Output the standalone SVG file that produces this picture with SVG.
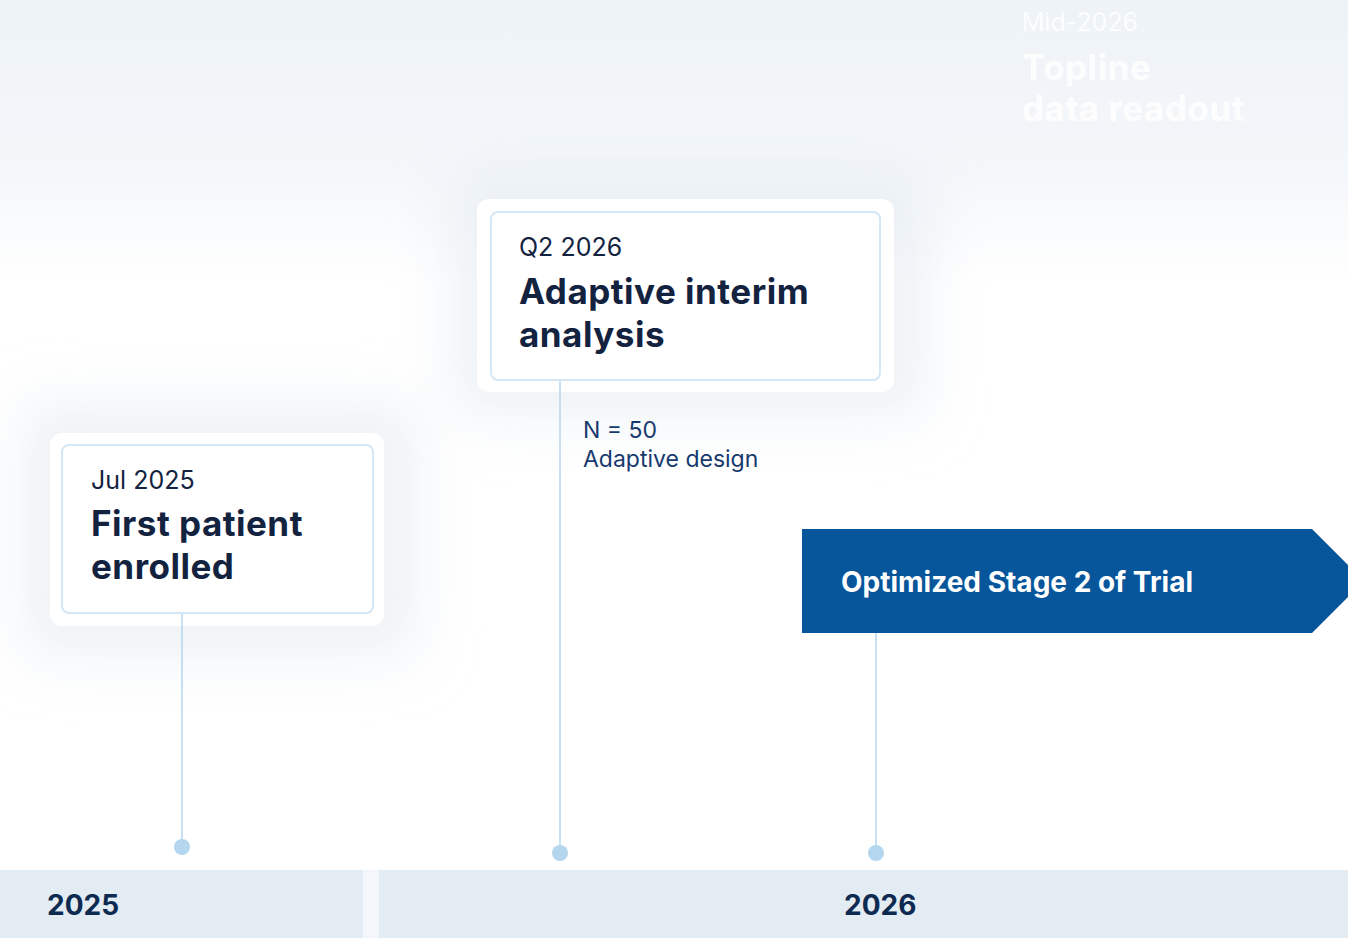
<svg xmlns="http://www.w3.org/2000/svg" width="1348" height="938" viewBox="0 0 1348 938">
<defs>
<linearGradient id="bg" x1="0" y1="0" x2="0" y2="1">
<stop offset="0" stop-color="#eef3f7"/>
<stop offset="0.6" stop-color="#f4f7fa"/>
<stop offset="1" stop-color="#ffffff"/>
</linearGradient>
<filter id="sh" x="-40%" y="-60%" width="180%" height="220%">
<feGaussianBlur stdDeviation="28"/>
</filter>
<style>
.card{fill:#ffffff}
.inner{fill:#ffffff;stroke:#d5e6f4;stroke-width:2}
.shadow{fill:#dfe7ee;opacity:0.5;filter:url(#sh)}
.date{font-family:Inter,"Noto Sans",sans-serif;font-size:25px;fill:#13233f}
.title{font-family:Inter,"Noto Sans",sans-serif;font-size:35px;font-weight:700;letter-spacing:0.5px;fill:#13233f}
.note{font-family:Inter,"Noto Sans",sans-serif;font-size:23px;fill:#173a6e}
.year{font-family:Inter,"Noto Sans",sans-serif;font-size:28px;font-weight:700;fill:#0d2a50}
.conn{stroke:#b4d6ef;stroke-width:1.5;fill:none}
.dot{fill:#b4d6ef}
</style>
</defs>
<rect width="1348" height="938" fill="#ffffff"/>
<rect x="0" y="0" width="1348" height="285" fill="url(#bg)"/>
<g id="shadows">
<rect class="shadow" x="20" y="400" width="400" height="260" rx="20"/>
<rect class="shadow" x="450" y="170" width="480" height="250" rx="20"/>
</g>
<g id="topline" opacity="0.85">
<text x="1022" y="31" class="date" style="fill:#ffffff">Mid-2026</text>
<text x="1022" y="80" class="title" style="fill:#ffffff">Topline</text>
<text x="1022" y="121" class="title" style="fill:#ffffff">data readout</text>
</g>
<g id="node-jul2025">
<rect class="card" x="50" y="433" width="334" height="193" rx="12"/>
<rect class="inner" x="62" y="445" width="311" height="168" rx="7"/>
<text x="91" y="489" class="date">Jul 2025</text>
<text x="91" y="536" class="title">First patient</text>
<text x="91" y="579" class="title">enrolled</text>
</g>
<g id="node-q22026">
<rect class="card" x="477" y="199" width="417" height="193" rx="12"/>
<rect class="inner" x="491" y="212" width="389" height="168" rx="7"/>
<text x="519" y="256" class="date">Q2 2026</text>
<text x="519" y="304" class="title">Adaptive interim</text>
<text x="519" y="347" class="title">analysis</text>
</g>
<g id="node-n50">
<text x="583" y="438" class="note">N = 50</text>
<text x="583" y="467" class="note">Adaptive design</text>
</g>
<g id="node-stage2">
<polygon points="802,529 1312,529 1364,581 1312,633 802,633" fill="#07559a"/>
<text x="841" y="592" style="font-family:Inter,'Noto Sans',sans-serif;font-size:28px;font-weight:700;fill:#ffffff">Optimized Stage 2 of Trial</text>
</g>
<g id="connectors">
<line class="conn" x1="182" y1="614" x2="182" y2="847"/>
<circle class="dot" cx="182" cy="847" r="8"/>
<line class="conn" x1="560" y1="381" x2="560" y2="853"/>
<circle class="dot" cx="560" cy="853" r="8"/>
<line class="conn" x1="876" y1="633" x2="876" y2="853"/>
<circle class="dot" cx="876" cy="853" r="8"/>
</g>
<g id="axis">
<rect x="0" y="870" width="1348" height="68" fill="#f3f7fb"/>
<rect x="0" y="870" width="363" height="68" fill="#e3ebf3"/>
<rect x="379" y="870" width="969" height="68" fill="#e3ebf3"/>
<text x="47" y="915" class="year">2025</text>
<text x="844" y="915" class="year">2026</text>
</g>
</svg>
